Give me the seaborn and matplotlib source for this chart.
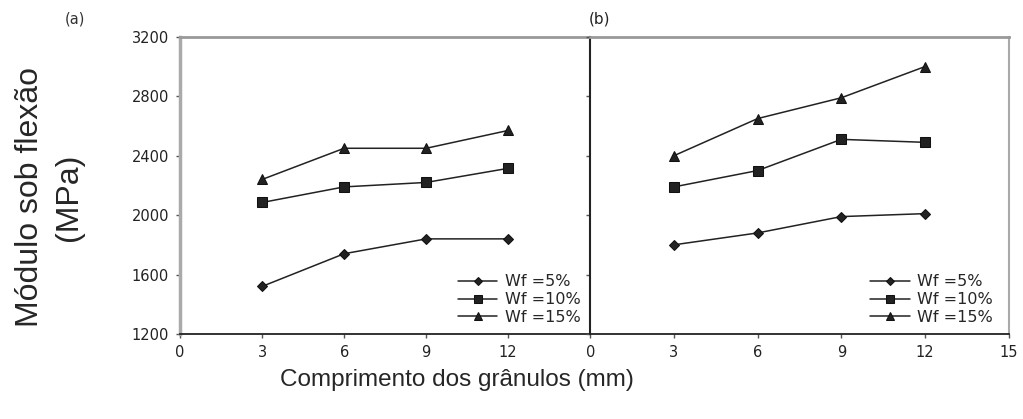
import numpy as np
import pandas as pd
import matplotlib
matplotlib.use("Agg")
import matplotlib.pyplot as plt
import seaborn as sns

# dados
comprimento = [3, 6, 9, 12]
series = ["Wf =5%", "Wf =10%", "Wf =15%"]
a_wf5 = [1520, 1740, 1840, 1840]
a_wf10 = [2085, 2190, 2220, 2315]
a_wf15 = [2240, 2450, 2450, 2570]
b_wf5 = [1800, 1880, 1990, 2010]
b_wf10 = [2190, 2300, 2510, 2490]
b_wf15 = [2400, 2650, 2790, 3000]


def montar(v5, v10, v15):
    linhas = []
    for nome, vals in zip(series, [v5, v10, v15]):
        for c, v in zip(comprimento, vals):
            linhas.append({"comp": c, "modulo": v, "Wf": nome})
    return pd.DataFrame(linhas)


df_a = montar(a_wf5, a_wf10, a_wf15)
df_b = montar(b_wf5, b_wf10, b_wf15)

sns.set_style("ticks")
plt.rcParams["font.family"] = ["Liberation Sans", "DejaVu Sans"]

fig = plt.figure(figsize=(10.23, 4.19), dpi=100)
ax_a = fig.add_axes([0.176, 0.203, 0.401, 0.709])
ax_b = fig.add_axes([0.577, 0.203, 0.409, 0.709])

marcadores = ["D", "s", "^"]
for ax, df, leg_x in [(ax_a, df_a, 0.976), (ax_b, df_b, 0.962)]:
    sns.lineplot(data=df, x="comp", y="modulo", hue="Wf", style="Wf",
                 markers=marcadores, dashes=False, palette=["#222222"] * 3,
                 linewidth=1.1, markersize=7, markeredgecolor="#111111",
                 ax=ax)
    # losango menor, como no original
    for ln in ax.lines:
        if ln.get_marker() == "D":
            ln.set_markersize(5.2)
    ax.set_xlim(0, 15)
    ax.set_ylim(1200, 3200)
    ax.set_yticks([1200, 1600, 2000, 2400, 2800, 3200])
    ax.set_xlabel("")
    ax.set_ylabel("")
    ax.tick_params(axis="both", direction="out", length=3, width=1,
                   colors="#555555", labelcolor="#222222", labelsize=10.5, pad=5)
    leg = ax.legend(loc="lower right", bbox_to_anchor=(leg_x, 0.03),
                    frameon=False, handlelength=2.5, borderpad=0,
                    borderaxespad=0, labelspacing=0.18, handletextpad=0.45,
                    markerscale=0.85,
                    prop={"family": "DejaVu Sans", "size": 11.5})
    for h in leg.legend_handles:
        if h.get_marker() == "D":
            h.set_markersize(4.5)
    for spine in ["top", "bottom", "left", "right"]:
        ax.spines[spine].set_visible(True)

ax_a.set_xticks([0, 3, 6, 9, 12])
ax_b.set_xticks([0, 3, 6, 9, 12, 15])
ax_b.set_yticklabels([])
for ax in [ax_a, ax_b]:
    for lbl in ax.get_xticklabels() + ax.get_yticklabels():
        lbl.set_family("DejaVu Sans")

# bordas como no original
ax_a.spines["top"].set_color("#999999")
ax_a.spines["top"].set_linewidth(2)
ax_a.spines["left"].set_color("#aaaaaa")
ax_a.spines["left"].set_linewidth(2.5)
ax_a.spines["bottom"].set_color("#222222")
ax_a.spines["bottom"].set_linewidth(1.3)
ax_a.spines["right"].set_visible(False)
ax_b.spines["top"].set_color("#999999")
ax_b.spines["top"].set_linewidth(2)
ax_b.spines["right"].set_color("#aaaaaa")
ax_b.spines["right"].set_linewidth(1.5)
ax_b.spines["left"].set_color("#222222")
ax_b.spines["left"].set_linewidth(1.5)
ax_b.spines["bottom"].set_color("#222222")
ax_b.spines["bottom"].set_linewidth(1.3)

fig.text(0.073, 0.955, "(a)", fontsize=10.5, ha="center", va="center",
         color="#333333", family="DejaVu Sans")
fig.text(0.586, 0.955, "(b)", fontsize=11, ha="center", va="center",
         color="#222222", family="DejaVu Sans")

fig.text(0.029, 0.530, "Módulo sob flexão", rotation=90, fontsize=23,
         ha="center", va="center")
fig.text(0.067, 0.530, "(MPa)", rotation=90, fontsize=23,
         ha="center", va="center")
fig.text(0.447, 0.092, "Comprimento dos grânulos (mm)", fontsize=17.5,
         ha="center", va="center")

plt.savefig("out.png", dpi=100)
